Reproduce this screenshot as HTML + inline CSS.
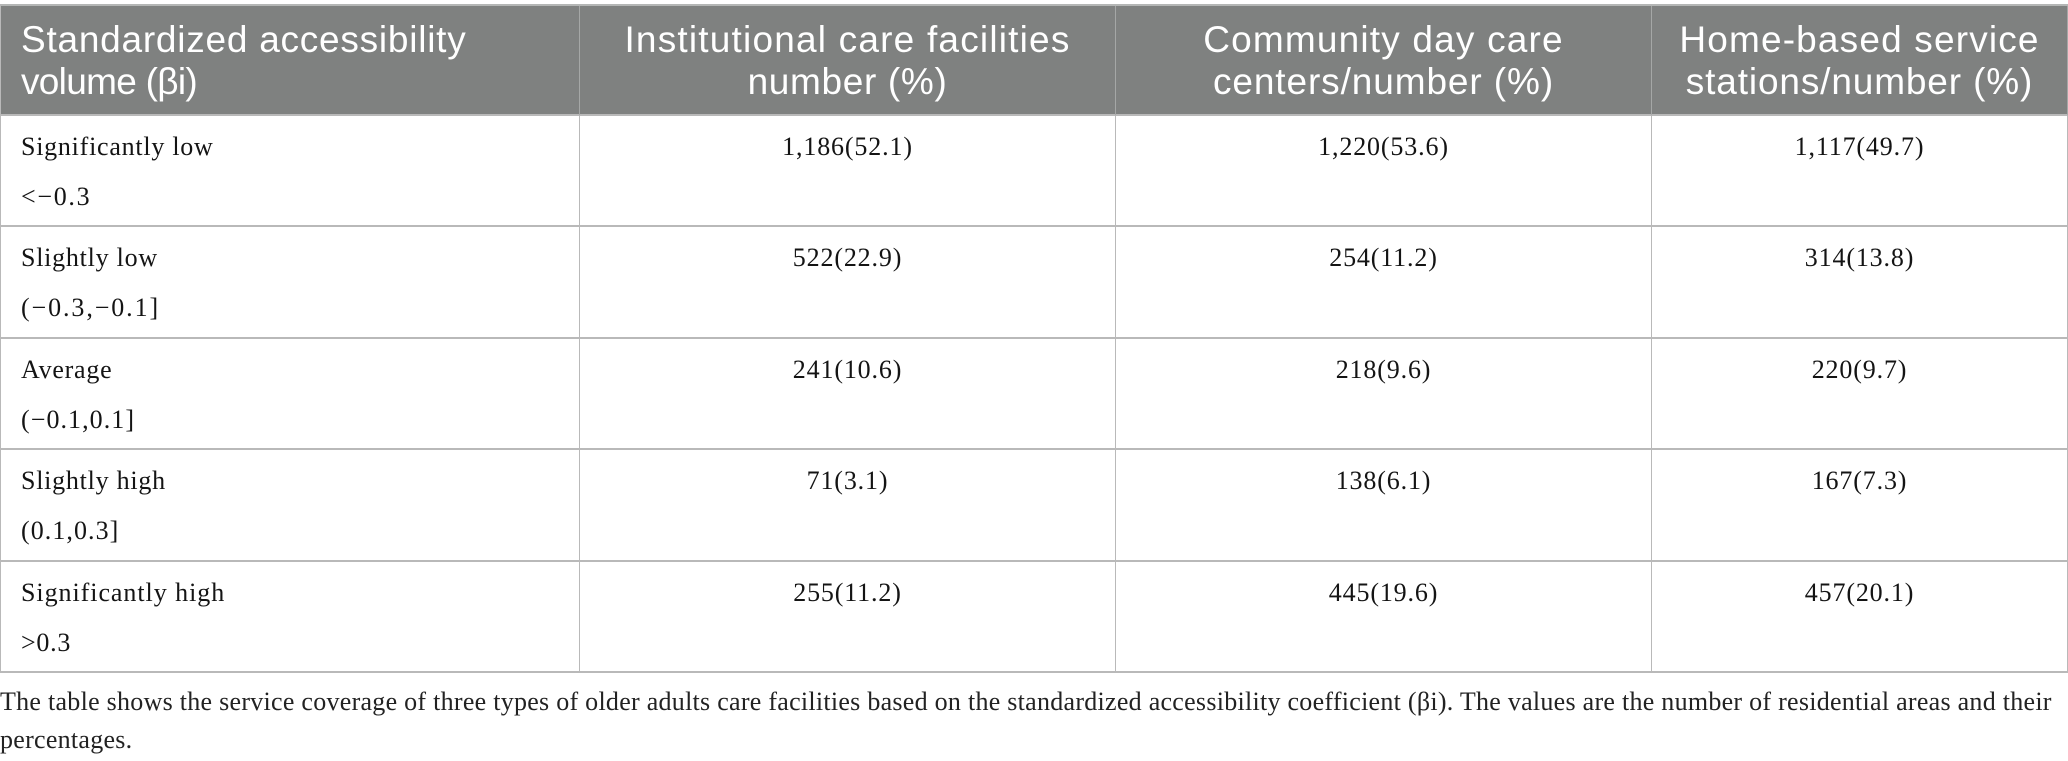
<!DOCTYPE html>
<html lang="en">
<head>
<meta charset="utf-8">
<title>Service coverage table</title>
<style>
html,body{margin:0;padding:0;background:#fff;width:2068px;height:761px;overflow:hidden}
table{position:absolute;left:0;top:4px;width:2068px;table-layout:fixed;border-collapse:separate;border-spacing:0;border-top:2px solid #b4b6b5;border-left:1px solid #b9b9b9}
th{background:#7f8180;color:#fff;font:400 37px/42px "Liberation Sans",sans-serif;height:110px;box-sizing:border-box;padding:13px 0 0;vertical-align:top;text-align:center;border-right:1px solid #a5a7a6;border-bottom:2px solid #b9b9b9}
th.first{text-align:left;padding-left:20px}
td{font:400 26px/50px "Liberation Serif","DejaVu Serif",serif;color:#141414;letter-spacing:.85px;box-sizing:border-box;padding:6px 0 0;vertical-align:top;text-align:center;border-right:1px solid #b9b9b9;border-bottom:2px solid #b9b9b9}
td.first{text-align:left;padding-left:20px;letter-spacing:.75px}
tr.r1 td,tr.r3 td,tr.r5 td{height:111px}
tr.r2 td,tr.r4 td{height:112px}
#caption{position:absolute;left:0;top:683px;width:2068px;font:400 26px/38px "Liberation Serif",serif;color:#222;letter-spacing:.27px;white-space:nowrap}
</style>
</head>
<body>
<table>
<colgroup><col style="width:579px"><col style="width:536px"><col style="width:536px"><col style="width:416px"></colgroup>
<thead>
<tr>
<th class="first"><span style="letter-spacing:.76px">Standardized accessibility</span><br><span style="letter-spacing:-.7px">volume (βi)</span></th>
<th><span style="letter-spacing:1.2px">Institutional care facilities</span><br><span style="letter-spacing:.66px">number (%)</span></th>
<th><span style="letter-spacing:1.18px">Community day care</span><br><span style="letter-spacing:.9px">centers/number (%)</span></th>
<th><span style="letter-spacing:1.17px">Home-based service</span><br><span style="letter-spacing:.86px">stations/number (%)</span></th>
</tr>
</thead>
<tbody>
<tr class="r1">
<td class="first">Significantly low<br><span style="letter-spacing:1.7px">&lt;−0.3</span></td>
<td>1,186(52.1)</td>
<td>1,220(53.6)</td>
<td>1,117(49.7)</td>
</tr>
<tr class="r2">
<td class="first">Slightly low<br><span style="letter-spacing:1.9px">(−0.3,−0.1]</span></td>
<td>522(22.9)</td>
<td>254(11.2)</td>
<td>314(13.8)</td>
</tr>
<tr class="r3">
<td class="first">Average<br><span style="letter-spacing:1.06px">(−0.1,0.1]</span></td>
<td>241(10.6)</td>
<td>218(9.6)</td>
<td>220(9.7)</td>
</tr>
<tr class="r4">
<td class="first">Slightly high<br><span style="letter-spacing:1.06px">(0.1,0.3]</span></td>
<td>71(3.1)</td>
<td>138(6.1)</td>
<td>167(7.3)</td>
</tr>
<tr class="r5">
<td class="first"><span style="letter-spacing:.95px">Significantly high</span><br>&gt;0.3</td>
<td>255(11.2)</td>
<td>445(19.6)</td>
<td>457(20.1)</td>
</tr>
</tbody>
</table>
<div id="caption">The table shows the service coverage of three types of older adults care facilities based on the standardized accessibility coefficient (βi). The values are the number of residential areas and their<br>percentages.</div>
</body>
</html>
